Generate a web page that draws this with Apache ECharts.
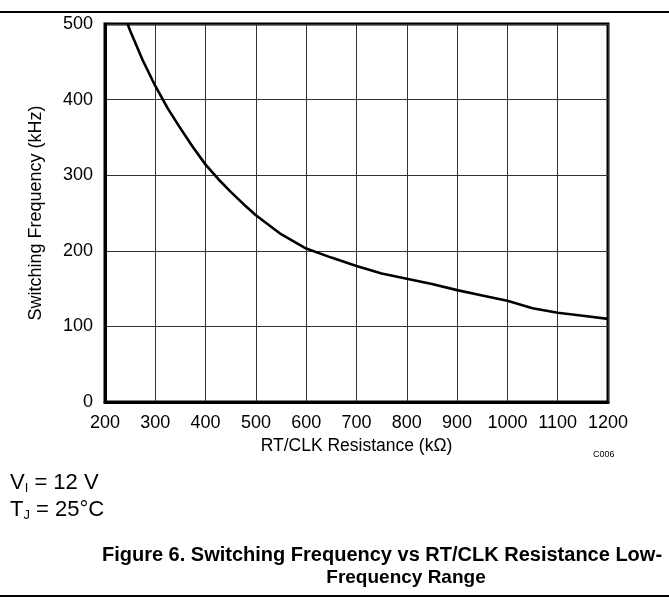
<!DOCTYPE html>
<html>
<head>
<meta charset="utf-8">
<script src="https://cdn.jsdelivr.net/npm/echarts@6/dist/echarts.min.js"></script>
<style>
html,body{margin:0;padding:0;background:#fff;}
#c{width:669px;height:602px;}
</style>
</head>
<body>
<div id="c"></div>
<script>
const resistance = [245, 250, 275, 300, 325, 350, 375, 400, 425, 450, 475, 500, 550, 600, 650, 700, 750, 800, 850, 900, 950, 1000, 1050, 1100, 1150, 1200];
const frequency = [500, 491, 452, 418, 388, 362, 337, 314, 295, 278, 262, 247, 222, 203, 191, 180, 170, 163, 156, 148, 141, 134, 124, 118, 114, 110];
const xTicks = [200, 300, 400, 500, 600, 700, 800, 900, 1000, 1100, 1200];
const yTicks = [0, 100, 200, 300, 400, 500];

const chart = echarts.init(document.getElementById('c'), null, {renderer: 'canvas'});
const font = 'Liberation Sans, Arial, sans-serif';
chart.setOption({
  animation: false,
  backgroundColor: '#fff',
  grid: {left: 105, right: 61, top: 24, bottom: 200, show: true, borderColor: '#000', borderWidth: 3, backgroundColor: 'transparent'},
  xAxis: {
    type: 'value', min: xTicks[0], max: xTicks[xTicks.length - 1], interval: 100,
    name: 'RT/CLK Resistance (kΩ)', nameLocation: 'middle', nameGap: 34,
    nameTextStyle: {fontFamily: font, fontSize: 17.5, color: '#000'},
    axisLine: {show: true, lineStyle: {color: '#000', width: 3}},
    axisTick: {show: false},
    axisLabel: {fontFamily: font, fontSize: 18, color: '#000', margin: 12, formatter: v => String(v)},
    splitLine: {show: true, lineStyle: {color: '#333', width: 1}}
  },
  yAxis: {
    type: 'value', min: yTicks[0], max: yTicks[yTicks.length - 1], interval: 100,
    name: 'Switching Frequency (kHz)', nameLocation: 'middle', nameGap: 60,
    nameTextStyle: {fontFamily: font, fontSize: 18, color: '#000'},
    axisLine: {show: true, lineStyle: {color: '#000', width: 3}},
    axisTick: {show: false},
    axisLabel: {fontFamily: font, fontSize: 18, color: '#000', margin: 12, formatter: v => String(v)},
    splitLine: {show: true, lineStyle: {color: '#333', width: 1}}
  },
  series: [{
    type: 'line',
    data: resistance.map((r, i) => [r, frequency[i]]),
    showSymbol: false,
    smooth: false,
    lineStyle: {color: '#000', width: 2.6, join: 'round'},
    z: 5
  }],
  graphic: [
    {type: 'line', shape: {x1: 0, y1: 12, x2: 669, y2: 12}, style: {stroke: '#000', lineWidth: 2}},
    {type: 'line', shape: {x1: 0, y1: 596, x2: 669, y2: 596}, style: {stroke: '#000', lineWidth: 2}},
    {type: 'text', x: 593, y: 450, style: {text: 'C006', fontFamily: font, fontSize: 9, fill: '#000'}},
    {type: 'text', x: 10, y: 470, style: {
      text: '{a|V}{s|I}{a| = 12 V}',
      rich: {a: {fontFamily: font, fontSize: 22, fill: '#000'}, s: {fontFamily: font, fontSize: 13, fill: '#000', padding: [12, 0, 0, 0]}}
    }},
    {type: 'text', x: 10, y: 497, style: {
      text: '{a|T}{s|J}{a| = 25°C}',
      rich: {a: {fontFamily: font, fontSize: 22, fill: '#000'}, s: {fontFamily: font, fontSize: 13, fill: '#000', padding: [12, 0, 0, 0]}}
    }},
    {type: 'text', x: 382, y: 555, style: {text: 'Figure 6. Switching Frequency vs RT/CLK Resistance Low-', fontFamily: font, fontSize: 20, fontWeight: 'bold', fill: '#000', align: 'center', verticalAlign: 'middle'}},
    {type: 'text', x: 406, y: 578, style: {text: 'Frequency Range', fontFamily: font, fontSize: 19, fontWeight: 'bold', fill: '#000', align: 'center', verticalAlign: 'middle'}}
  ]
});
</script>
</body>
</html>
